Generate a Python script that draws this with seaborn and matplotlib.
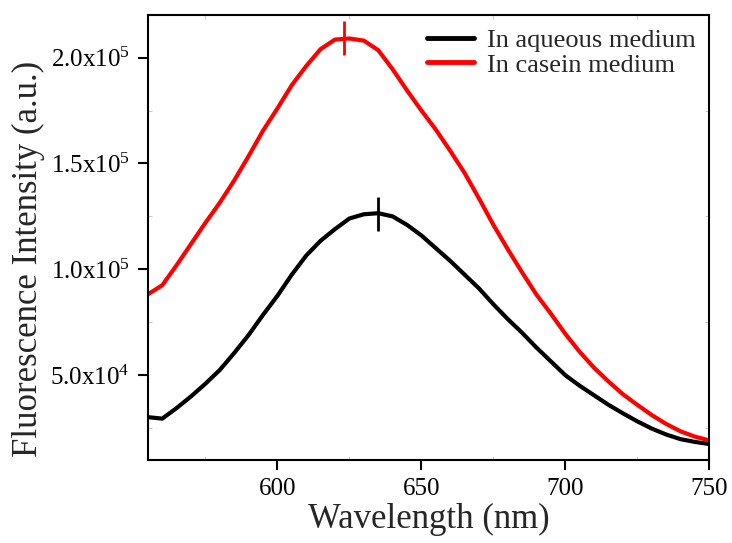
import numpy as np
import pandas as pd
import matplotlib
matplotlib.use("Agg")
import matplotlib.pyplot as plt
import seaborn as sns
from matplotlib.ticker import FixedLocator, FixedFormatter, MultipleLocator

# === DATOS (intensidad en unidades de 1e4) ===
wavelength = list(range(555, 751, 5))
aqueous = [3.02, 2.95, 3.45, 4.0, 4.6, 5.25, 6.05, 6.9, 7.85, 8.75,
           9.75, 10.65, 11.35, 11.9, 12.4, 12.6, 12.65, 12.5, 12.1, 11.6,
           11.0, 10.4, 9.75, 9.1, 8.35, 7.65, 7.0, 6.3, 5.65, 5.0,
           4.5, 4.05, 3.6, 3.2, 2.82, 2.48, 2.2, 1.98, 1.85, 1.75]
casein = [8.82, 9.25, 10.2, 11.2, 12.2, 13.15, 14.2, 15.35, 16.55, 17.6,
          18.7, 19.6, 20.4, 20.85, 20.9, 20.8, 20.35, 19.45, 18.45, 17.5,
          16.6, 15.6, 14.55, 13.35, 12.1, 10.95, 9.85, 8.8, 7.9, 6.95,
          6.1, 5.35, 4.7, 4.1, 3.6, 3.12, 2.7, 2.35, 2.1, 1.92]
series_names = ["In aqueous medium", "In casein medium"]
peak_x = [635, 623]
peak_y = [12.6e4, 20.9e4]
y_ticks = [5e4, 1e5, 1.5e5, 2e5]
y_tick_labels = ["5.0x10$^{4}$", "1.0x10$^{5}$", "1.5x10$^{5}$", "2.0x10$^{5}$"]

df = pd.DataFrame({
    "wl": wavelength * 2,
    "val": [v * 1e4 for v in aqueous] + [v * 1e4 for v in casein],
    "medio": [series_names[0]] * len(wavelength) + [series_names[1]] * len(wavelength),
})

# === CONFIGURACIÓN ===
sns.set_theme(style="ticks")
plt.rcParams["font.family"] = ["Liberation Serif", "DejaVu Serif"]
plt.rcParams["mathtext.fontset"] = "custom"
plt.rcParams["mathtext.rm"] = "Liberation Serif"
plt.rcParams["mathtext.it"] = "Liberation Serif:italic"

fig = plt.figure(figsize=(7.32, 5.43), dpi=100)
ax = fig.add_axes([0.202, 0.153, 0.767, 0.819])

colores = {series_names[0]: "black", series_names[1]: "#ff0000"}
sns.lineplot(data=df, x="wl", y="val", hue="medio", palette=colores,
             linewidth=3, ax=ax)

# marcas de pico
for px, py, c in zip(peak_x, peak_y, ["black", "#ff0000"]):
    ax.plot([px], [py], marker="|", markersize=25, markeredgewidth=2, color=c)

ax.set_xlim(555, 750)
ax.set_ylim(1.0e4, 2.2e5)
ax.set_xticks([600, 650, 700, 750])
ax.yaxis.set_major_locator(FixedLocator(y_ticks))
ax.yaxis.set_major_formatter(FixedFormatter(y_tick_labels))
ax.xaxis.set_minor_locator(MultipleLocator(25))
ax.yaxis.set_minor_locator(MultipleLocator(2.5e4))

ax.tick_params(which="major", direction="out", length=7, width=1.5,
               labelsize=18, colors="black", pad=6)
ax.tick_params(which="minor", direction="in", length=3, width=0.8,
               color="#cccccc", top=True, right=True, bottom=True, left=True)
for s in ax.spines.values():
    s.set_linewidth(1.5)
    s.set_color("black")

ax.set_xlabel("Wavelength (nm)", fontsize=25, labelpad=2)
ax.set_ylabel("Fluorescence Intensity (a.u.)", fontsize=25, labelpad=4)
ax.yaxis.label.set_y(0.452)

leg = ax.legend(loc="upper right", frameon=False, fontsize=19,
                handlelength=1.8, handletextpad=0.5, labelspacing=0.05,
                borderaxespad=0.1)
for h in leg.get_lines():
    h.set_linewidth(3.5)

fig.savefig("out.png", dpi=100)
